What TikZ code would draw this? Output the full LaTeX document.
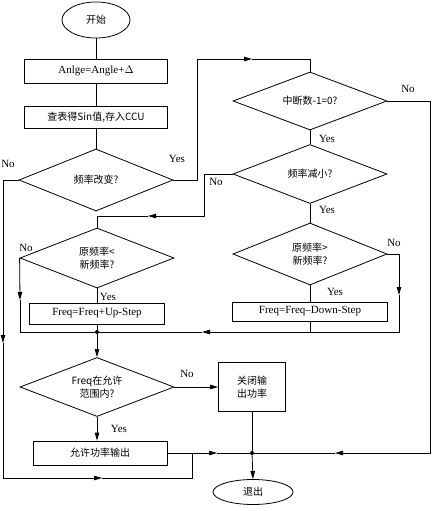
\documentclass[tikz,border=0pt]{standalone}
\usepackage{fontspec}
\setmainfont{Liberation Serif}
\newfontfamily\cjk{Noto Sans CJK SC}
\usetikzlibrary{shapes.geometric,arrows.meta}

\begin{document}
\begin{tikzpicture}[x=1pt,y=1pt,line width=0.8pt]
\tikzstyle{every node}+=[inner sep=0pt,font=\fontsize{11}{13}\selectfont]
\tikzstyle{zh}=[font=\cjk\fontsize{10}{12.5}\selectfont]
\tikzstyle{term}=[draw,ellipse,zh]
\tikzstyle{proc}=[draw,rectangle,align=center]
\tikzstyle{cond}=[draw,diamond,aspect=2.5,align=center,zh,minimum width=154pt,minimum height=60pt]
\tikzstyle{dot}=[fill,circle,minimum size=4pt]
\tikzstyle{arr}=[-{Triangle[length=8pt,width=4.5pt]}]
\useasboundingbox (0,0) rectangle (431,-511);
% left column
\node [term,minimum width=68pt,minimum height=36pt] (start) at (96,-20) {开始};
\node [proc,minimum width=143pt,minimum height=24pt] (angle) at (96,-71) {Anlge=Angle+$\Delta$};
\node [proc,zh,minimum width=143pt,minimum height=22pt] (table) at (96,-117) {查表得Sin值,存入CCU};
\node [cond,minimum height=62pt] (chg) at (96,-180) {频率改变?};
\node [cond] (lower) at (97,-258) {原频率<\\新频率?};
\node [proc,minimum width=135pt,minimum height=21pt] (up) at (97,-313.5) {Freq=Freq+Up-Step};
\node [dot] (j1) at (97,-332) {};
\node [cond,minimum height=59pt] (range) at (97,-387) {Freq在允许\\范围内?};
\node [proc,zh,minimum width=134pt,minimum height=24pt] (allow) at (100,-453) {允许功率输出};
% right column
\node [cond,minimum height=58pt] (irq) at (310,-101) {中断数-1=0?};
\node [cond,minimum height=59pt] (dec) at (310,-174) {频率减小?};
\node [cond,minimum height=62pt] (higher) at (310,-254) {原频率>\\新频率?};
\node [proc,minimum width=155pt,minimum height=19pt] (down) at (310,-311.5) {Freq=Freq--Down-Step};
\node [proc,zh,minimum width=67pt,minimum height=49pt] (off) at (252,-387) {关闭输\\出功率};
\node [dot] (j2) at (252,-453) {};
\node [term,minimum width=80pt,minimum height=25pt] (stop) at (253,-492) {退出};
% bend points
\coordinate (t1) at (197,-59);
\coordinate (t1a) at (252,-59);
\coordinate (r1) at (430,-453);
\coordinate (r1a) at (335,-453);
\coordinate (l1) at (204,-216);
\coordinate (l1a) at (148,-216);
\coordinate (l2a) at (20,-300);
\coordinate (r2a) at (399,-295);
\coordinate (r2) at (399,-332);
\coordinate (r2b) at (202,-332);
\coordinate (b6a) at (217,-453);
\coordinate (l3a) at (3,-343);
\coordinate (l3) at (3,-478);
\coordinate (l3b) at (102,-478);
\coordinate (l4) at (192,-478);
% connectors
\draw (start) -- (angle);
\draw (angle) -- (table);
\draw (table) -- (chg);
\draw [arr] (chg.east) -| (t1) -- (t1a);
\draw (t1a) -| (irq.north);
\draw [arr] (irq.east) -| (r1) -- (r1a);
\draw (r1a) -- (j2);
\draw (irq.south) -- (dec.north);
\draw [arr] (dec.west) -| (l1) -- (l1a);
\draw (l1a) -| (lower.north);
\draw (dec.south) -- (higher.north);
\draw [arr] (lower.west) -- (l2a);
\draw (l2a) |- (j1);
\draw (lower.south) -- (up.north);
\draw (up.south) -- (j1);
\draw [arr] (higher.east) -| (r2a);
\draw [arr] (r2a) -- (r2) -- (r2b);
\draw (r2b) -- (j1);
\draw (higher.south) -- (down.north);
\draw (down.south) -- (down.south |- r2);
\draw [arr] (j1) -- (range.north);
\draw [arr] (range.east) -- (off.west);
\draw [arr] (range.south) -- (range.south |- allow.north);
\draw [arr] (allow.east) -- (b6a);
\draw (b6a) -- (j2);
\draw (off.south) -- (j2);
\draw [arr] (j2) -- (stop.north);
\draw [arr] (chg.west) -| (l3a);
\draw [arr] (l3a) -- (l3) -- (l3b);
\draw (l3b) -- (l4) -- (l4 |- j2);
% yes / no labels
\node (chgY) at (177,-159) {Yes};
\node (chgN) at (8,-164) {No};
\node (irqY) at (327,-139) {Yes};
\node (irqN) at (408,-89) {No};
\node (decY) at (327,-210) {Yes};
\node (decN) at (216,-182) {No};
\node (lowerY) at (108,-297) {Yes};
\node (lowerN) at (26,-248) {No};
\node (higherY) at (335,-292) {Yes};
\node (higherN) at (394,-243) {No};
\node (rangeY) at (119,-429) {Yes};
\node (rangeN) at (187,-374) {No};
\end{tikzpicture}
\end{document}
